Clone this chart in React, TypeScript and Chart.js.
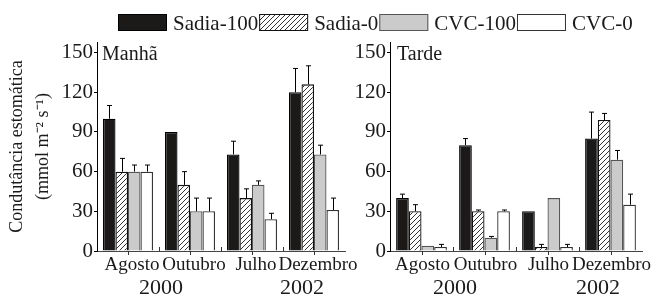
import React, { useEffect, useRef } from "react";
import { Chart, registerables } from "chart.js";

Chart.register(...registerables);

const categories = ["Agosto", "Outubro", "Julho", "Dezembro"];
const seriesNames = ["Sadia-100", "Sadia-0", "CVC-100", "CVC-0"];
const yearLabels = ["2000", "2002"];
const panelTitles = ["Manhã", "Tarde"];
const yTitleLines = ["Condutância estomática", "(mmol m⁻² s⁻¹)"];
const yMin = 0;
const yMax = 158;
const yTickValues = [0, 15, 30, 45, 60, 75, 90, 105, 120, 135, 150];
const yLabelStep = 30;

// Manhã (morning) – bar heights and upper error amounts
const manhaSadia100 = [100, 90, 73, 120];
const manhaSadia100Err = [10, 0, 10, 18];
const manhaSadia0 = [60, 50, 40, 126];
const manhaSadia0Err = [10, 10, 7, 14];
const manhaCvc100 = [60, 30, 50, 73];
const manhaCvc100Err = [5, 10, 3, 7];
const manhaCvc0 = [60, 30, 24, 31];
const manhaCvc0Err = [5, 10, 4.5, 9];

// Tarde (afternoon)
const tardeSadia100 = [40, 80, 30, 85];
const tardeSadia100Err = [3, 5, 0, 20];
const tardeSadia0 = [30, 30, 3, 99];
const tardeSadia0Err = [5, 1, 2, 5];
const tardeCvc100 = [4, 10, 40, 69];
const tardeCvc100Err = [0, 1, 0, 7];
const tardeCvc0 = [3, 30, 3, 35];
const tardeCvc0Err = [2, 1, 2, 8];

const FONT = '"Liberation Serif", "Times New Roman", Times, serif';

function makeHatch(): CanvasPattern | string {
  const c = document.createElement("canvas");
  c.width = 5;
  c.height = 5;
  const g = c.getContext("2d");
  if (!g) return "#fff";
  g.fillStyle = "#ffffff";
  g.fillRect(0, 0, 5, 5);
  g.strokeStyle = "#000000";
  g.lineWidth = 0.8;
  g.beginPath();
  g.moveTo(0, 5);
  g.lineTo(5, 0);
  g.moveTo(-1, 1);
  g.lineTo(1, -1);
  g.moveTo(4, 6);
  g.lineTo(6, 4);
  g.stroke();
  return g.createPattern(c, "repeat") || "#fff";
}

interface PanelOpts {
  values: number[][];
  errors: number[][];
  title: string;
  padLeft: number;
  padRight: number;
  yWidth: number;
  showYTitle: boolean;
  labelOffset: number;
  titleDx: number;
  drawLegend: boolean;
  fills: (string | CanvasPattern)[];
  borders: string[];
}

function buildConfig(o: PanelOpts): any {
  const errorBars = {
    id: "errorBars",
    afterDatasetsDraw(chart: any) {
      const ctx = chart.ctx;
      const ys = chart.scales.y;
      ctx.save();
      ctx.strokeStyle = "#000";
      ctx.lineWidth = 1;
      chart.data.datasets.forEach((ds: any, i: number) => {
        const meta = chart.getDatasetMeta(i);
        meta.data.forEach((bar: any, j: number) => {
          const e = ds.errors[j];
          if (!e) return;
          const x = Math.round(bar.x) + 0.5;
          const yTop = ys.getPixelForValue(ds.data[j] + e);
          ctx.beginPath();
          ctx.moveTo(x, bar.y);
          ctx.lineTo(x, yTop);
          ctx.moveTo(x - 2.5, yTop);
          ctx.lineTo(x + 2.5, yTop);
          ctx.stroke();
        });
      });
      ctx.restore();
    },
  };

  const decorations = {
    id: "decorations",
    afterDraw(chart: any) {
      const ctx = chart.ctx;
      const xs = chart.scales.x;
      const area = chart.chartArea;
      ctx.save();
      // x-axis tick marks: centres and group boundaries
      ctx.strokeStyle = "#333";
      ctx.lineWidth = 1;
      ctx.beginPath();
      for (let i = 0; i < categories.length; i++) {
        const cx = Math.round(xs.getPixelForValue(i)) + 0.5;
        ctx.moveTo(cx, area.bottom);
        ctx.lineTo(cx, area.bottom + 4);
        if (i < categories.length - 1) {
          const bx = Math.round(xs.getPixelForValue(i + 0.5)) + 0.5;
          ctx.moveTo(bx, area.bottom);
          ctx.lineTo(bx, area.bottom - 4);
        }
      }
      ctx.stroke();

      // panel title
      ctx.fillStyle = "#1a1a1a";
      ctx.font = `20px ${FONT}`;
      ctx.textAlign = "left";
      ctx.textBaseline = "alphabetic";
      ctx.fillText(o.title, area.left + o.titleDx, 60);

      // year labels
      ctx.font = `22px ${FONT}`;
      ctx.textAlign = "center";
      const y2000 = xs.getPixelForValue(0.5) + 2;
      const y2002 = xs.getPixelForValue(2.5) + 19;
      ctx.fillText(yearLabels[0], y2000, 294);
      ctx.fillText(yearLabels[1], y2002, 294);

      // legend across the top
      if (o.drawLegend) {
        ctx.font = `21px ${FONT}`;
        ctx.textAlign = "left";
        let x = 118;
        chart.data.datasets.forEach((ds: any) => {
          ctx.fillStyle = ds.backgroundColor;
          ctx.fillRect(x, 14, 49, 17);
          ctx.strokeStyle = ds.borderColor;
          ctx.lineWidth = 1;
          ctx.strokeRect(x + 0.5, 14.5, 48, 16);
          ctx.fillStyle = "#1a1a1a";
          ctx.fillText(ds.label, x + 55, 30);
          x = x + 55 + ctx.measureText(ds.label).width + 1;
        });
      }
      ctx.restore();
    },
  };

  return {
    type: "bar",
    data: {
      labels: categories,
      datasets: seriesNames.map((name, i) => ({
        label: name,
        data: o.values[i],
        errors: o.errors[i],
        backgroundColor: o.fills[i],
        borderColor: o.borders[i],
        borderWidth: 1.3,
        categoryPercentage: 0.806,
        barPercentage: 1,
      })),
    },
    options: {
      responsive: false,
      animation: false,
      devicePixelRatio: 1,
      layout: { padding: { left: o.padLeft, right: o.padRight, top: 42, bottom: 0 } },
      plugins: {
        legend: { display: false },
        tooltip: { enabled: false },
      },
      scales: {
        x: {
          type: "category",
          grid: { display: false, drawTicks: false },
          border: { display: true, color: "#444", width: 1 },
          ticks: {
            autoSkip: false,
            maxRotation: 0,
            minRotation: 0,
            padding: 3,
            labelOffset: o.labelOffset,
            color: "#1a1a1a",
            font: { family: FONT, size: 19 },
          },
          afterFit(scale: any) {
            scale.height = 46;
          },
        },
        y: {
          type: "linear",
          min: yMin,
          max: yMax,
          ticks: {
            padding: 1,
            color: "#1a1a1a",
            font: { family: FONT, size: 21 },
            callback: (v: number) => (v % yLabelStep === 0 ? String(v) : ""),
          },
          afterBuildTicks(scale: any) {
            scale.ticks = yTickValues.map((v) => ({ value: v }));
          },
          grid: {
            drawOnChartArea: false,
            drawTicks: true,
            tickLength: 3,
            color: "#000",
            tickColor: "#000",
          },
          border: { display: true, color: "#000", width: 1 },
          title: {
            display: o.showYTitle,
            text: yTitleLines,
            color: "#1a1a1a",
            font: { family: FONT, size: 18, lineHeight: 1.45 },
            padding: { top: 4, bottom: 0 },
          },
          afterFit(scale: any) {
            scale.width = o.yWidth;
          },
        },
      },
    },
    plugins: [errorBars, decorations],
  };
}

export default function App() {
  const leftRef = useRef<HTMLCanvasElement>(null);
  const rightRef = useRef<HTMLCanvasElement>(null);

  useEffect(() => {
    const hatch = makeHatch();
    const fills = ["#1c1919", hatch, "#cbcbcb", "#ffffff"];
    const borders = ["#000000", "#111111", "#555555", "#333333"];

    const left = new Chart(
      leftRef.current as HTMLCanvasElement,
      buildConfig({
        values: [manhaSadia100, manhaSadia0, manhaCvc100, manhaCvc0],
        errors: [manhaSadia100Err, manhaSadia0Err, manhaCvc100Err, manhaCvc0Err],
        title: panelTitles[0],
        padLeft: 0,
        padRight: 657 - 345,
        yWidth: 97,
        showYTitle: true,
        labelOffset: 4,
        titleDx: 5,
        drawLegend: true,
        fills,
        borders,
      })
    );
    const right = new Chart(
      rightRef.current as HTMLCanvasElement,
      buildConfig({
        values: [tardeSadia100, tardeSadia0, tardeCvc100, tardeCvc0],
        errors: [tardeSadia100Err, tardeSadia0Err, tardeCvc100Err, tardeCvc0Err],
        title: panelTitles[1],
        padLeft: 350,
        padRight: 657 - 642,
        yWidth: 40,
        showYTitle: false,
        labelOffset: 1,
        titleDx: 7,
        drawLegend: false,
        fills,
        borders,
      })
    );
    return () => {
      left.destroy();
      right.destroy();
    };
  }, []);

  return (
    <div
      style={{
        position: "fixed",
        left: 0,
        top: 0,
        width: 657,
        height: 297,
        background: "#ffffff",
        overflow: "hidden",
      }}
    >
      <canvas
        ref={leftRef}
        width={657}
        height={297}
        style={{ position: "absolute", left: 0, top: 0 }}
      />
      <canvas
        ref={rightRef}
        width={657}
        height={297}
        style={{ position: "absolute", left: 0, top: 0 }}
      />
    </div>
  );
}
